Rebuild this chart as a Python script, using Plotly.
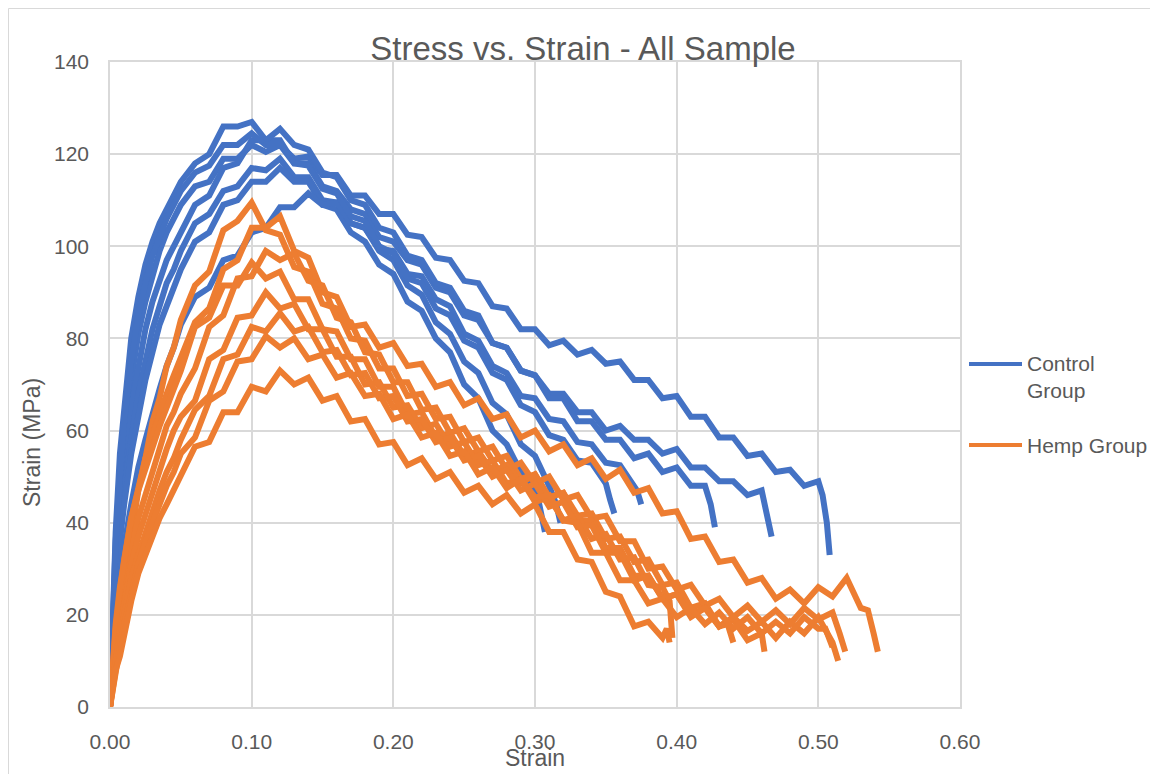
import plotly.graph_objects as go

# Shared strain grid (fine near origin, then 0.01 steps)
STRAIN_GRID = [0.000, 0.002, 0.004, 0.007, 0.010, 0.015, 0.020, 0.025, 0.030, 0.035, 0.040, 0.045, 0.050,
               0.06, 0.07, 0.08, 0.09, 0.10, 0.11, 0.12, 0.13, 0.14, 0.15,
               0.16, 0.17, 0.18, 0.19, 0.20, 0.21, 0.22, 0.23, 0.24, 0.25,
               0.26, 0.27, 0.28, 0.29, 0.30, 0.31, 0.32, 0.33, 0.34, 0.35,
               0.36, 0.37, 0.38, 0.39, 0.40, 0.41, 0.42, 0.43, 0.44, 0.45,
               0.46, 0.47, 0.48, 0.49, 0.50, 0.51, 0.52, 0.53, 0.54]

# ---- Control group (stress in MPa on STRAIN_GRID, then final failure points) ----
control_1 = [0, 18, 33, 47, 58, 71, 81, 88, 94, 99, 103, 106, 109,
             113, 114, 119, 119, 122, 120.5, 122, 119, 119.5, 115.5,
             115.5, 111, 111, 107, 107, 102.5, 102, 97.5, 97, 92.5,
             92, 87, 86.5, 82, 82, 78.5, 79.5, 76.5, 77.5, 74.5,
             75, 71, 71, 67, 67.5, 63, 63, 58.5, 58.5, 54.5,
             55, 51, 51.5, 48, 49]
control_1_tail = [(0.503, 46), (0.506, 40), (0.508, 33)]

control_2 = [0, 24, 38, 55, 65, 80, 89, 96, 101, 105, 108, 111, 114,
             118, 120, 126, 126, 127, 123, 123, 118, 118, 113,
             112, 108, 107, 102, 101, 97, 96, 91, 90, 85,
             84, 79, 78, 73, 72, 68, 68, 64, 64, 60,
             61, 58, 58, 55, 56, 52, 52, 49, 49, 46,
             47]
control_2_tail = [(0.463, 42), (0.467, 37)]

control_3 = [0, 15, 28, 42, 52, 65, 74, 82, 88, 93, 97, 100, 103,
             109, 111, 117, 118, 123, 123, 125.5, 122, 121, 116,
             115, 110, 109, 104, 103, 98, 97, 92, 91, 86,
             85, 79, 78, 73, 72, 67, 67, 62, 62, 58,
             58, 54, 55, 51, 52, 48, 48]
control_3_tail = [(0.424, 44), (0.427, 39)]

control_4 = [0, 14, 26, 38, 47, 58, 68, 75, 82, 87, 92, 95, 99,
             105, 107, 112, 113, 117, 116.5, 119, 115, 115, 110,
             109.5, 105, 104, 99.5, 99, 94, 93.5, 88.5, 87, 81,
             79.5, 74, 72.5, 67.5, 67, 62.5, 62, 57.5, 57, 53,
             52.5, 48]
control_4_tail = [(0.372, 47), (0.375, 44)]

control_5 = [0, 12, 24, 36, 44, 55, 63, 71, 77, 83, 87, 91, 95,
             101, 103, 109, 110, 114, 114, 117, 114, 114, 109,
             108, 103, 101, 96, 94, 88, 86, 80, 77, 70,
             67, 60, 57, 51, 47]
control_5_tail = [(0.303, 44), (0.307, 38)]

control_6 = [0, 10, 18, 28, 35, 44, 52, 58, 64, 69, 74, 78, 83,
             89, 91, 97, 98, 103, 104, 108.5, 108.5, 111.5, 109,
             109.5, 105, 104, 99, 97, 91.5, 89.5, 83.5, 81, 75,
             72.5, 66, 63.5, 57, 54.5, 48]
control_6_tail = [(0.315, 44), (0.318, 40)]

control_7 = [0, 20, 36, 50, 62, 75, 85, 92, 98, 102, 106, 109, 112,
             116, 117.5, 122, 122, 124.5, 122, 122, 118, 117.5, 112.5,
             111.5, 106.5, 105.5, 100, 98.5, 93, 92, 86.5, 85, 79.5,
             78, 72.5, 71, 65.5, 64, 59, 58, 53.5, 53, 48.5]
control_7_tail = [(0.353, 45), (0.356, 42)]

# ---- Hemp group ----
hemp_1 = [0, 6, 13, 20, 28, 37, 47, 54, 62, 67, 74, 78, 84,
          91.5, 94.5, 103.5, 105.5, 109.5, 103.5, 102.5, 95.5, 94.5, 87.5,
          86.5, 80, 79.5, 73.5, 73.5, 67.5, 68, 62.5, 63, 57.5,
          58.5, 53.5, 54.5, 49.5, 50.5, 45.5, 46.5, 41.5, 42, 36.5,
          37, 31.5, 32, 26.5, 27, 21.5, 22.5, 17.5, 19, 14.5,
          16]
hemp_1_tail = [(0.462, 12)]

hemp_2 = [0, 9, 17, 25, 32, 41, 48, 54, 59, 64, 68, 72, 76,
          83.5, 86.5, 95, 97, 104, 104, 106.5, 99, 97.5, 90,
          89, 82.5, 83, 78, 79, 74, 74.5, 69.5, 70.5, 65.5,
          67, 62.5, 63.5, 58.5, 60, 55.5, 57, 52.5, 54, 49.5,
          51.5, 46.5, 47.5, 42, 42.5, 36.5, 37, 31.5, 32, 27,
          28, 23.5, 25.5, 22.5, 26, 24, 28, 21.5]
hemp_2_tail = [(0.535, 21), (0.539, 16), (0.542, 12)]

hemp_3 = [0, 7, 13, 20, 26, 34, 41, 46, 52, 56, 61, 64, 68,
          73.5, 82.5, 85, 93, 93.5, 99, 97, 98.5, 92.5, 91.5,
          84.5, 83.5, 77, 76.5, 70.5, 70.5, 64.5, 65, 59.5, 60.5,
          55.5, 56.5, 51.5, 53, 48.5, 50, 45, 46, 41, 41.5,
          36, 36, 30, 30.5, 25.5, 26.5, 22, 23.5, 19.5, 22,
          18.5, 21, 18, 21.5, 19, 20.5]
hemp_3_tail = [(0.515, 16), (0.519, 12)]

hemp_4 = [0, 10, 18, 26, 32, 41, 47, 52, 57, 61, 65, 69, 73,
          82.5, 84.5, 91.5, 91.5, 96.5, 93, 94.5, 88.5, 88.5, 82,
          81.5, 75.5, 75.5, 69.5, 69.5, 63.5, 64, 58.5, 59.5, 54.5,
          55.5, 51, 52.5, 48.5, 50.5, 45.5, 46.5, 40.5, 40.5, 34.5,
          34.5, 28.5, 28.5, 23.5, 24.5, 19.5, 21.5, 17.5, 19.5, 16.5,
          18.5, 15, 18.5, 16, 19.5, 14]
hemp_4_tail = [(0.512, 12), (0.514, 10)]

hemp_5 = [0, 5, 11, 17, 22, 31, 37, 42, 47, 52, 56, 60, 63,
          66.5, 75.5, 77.5, 84.5, 85, 90, 86.5, 87.5, 82, 82,
          76, 76, 70, 70.5, 65, 65.5, 60.5, 61.5, 56.5, 57.5,
          52.5, 53.5, 48.5, 49.5, 44.5, 45.5, 40.5, 41.5, 36.5, 37.5,
          32, 32.5, 26.5, 26]
hemp_5_tail = [(0.395, 23), (0.397, 15)]

hemp_6 = [0, 6, 10, 15, 20, 28, 33, 38, 42, 47, 51, 54, 58,
          64.5, 67.5, 75.5, 76.5, 82.5, 81.5, 85.5, 81.5, 82.5, 77,
          77.5, 72, 72.5, 67, 67.5, 62, 62.5, 57.5, 58.5, 53.5,
          54.5, 50, 51.5, 47, 48.5, 43.5, 44.5, 39, 39.5, 33.5,
          33.5, 27.5, 28.5, 23.5, 24.5, 20, 21.5, 17.5]
hemp_6_tail = [(0.436, 18), (0.44, 14)]

hemp_7 = [0, 4, 9, 13, 18, 25, 31, 36, 40, 44, 48, 51, 55,
          58.5, 66.5, 68.5, 75, 75.5, 80.5, 78, 80, 75.5, 76.5,
          71.5, 72.5, 67.5, 68, 62.5, 63.5, 58.5, 59.5, 54.5, 55.5,
          50.5, 52, 47.5, 49.5, 45.5, 46, 40.5, 40, 33.5, 33.5,
          27.5, 27.5, 22.5, 23.5, 19.5, 21.5, 18, 20.5, 17, 19.5,
          16, 18.5, 16, 19.5, 17]
hemp_7_tail = [(0.505, 17), (0.51, 13)]

hemp_8 = [0, 4, 8, 11, 16, 23, 29, 33, 37, 41, 44, 47, 50,
          56.5, 57.5, 64, 64, 69.5, 68.5, 73, 70, 71.5, 66.5,
          67.5, 62, 62.5, 57, 57.5, 52.5, 54, 49.5, 51, 46.5,
          48, 44, 46, 42, 44, 38, 38, 32, 31.5, 25,
          24, 17.5, 18.5, 15]
hemp_8_tail = [(0.393, 17), (0.395, 14)]

control_curves = [(control_1, control_1_tail), (control_2, control_2_tail), (control_3, control_3_tail),
                  (control_4, control_4_tail), (control_5, control_5_tail), (control_6, control_6_tail),
                  (control_7, control_7_tail)]
hemp_curves = [(hemp_1, hemp_1_tail), (hemp_2, hemp_2_tail), (hemp_3, hemp_3_tail), (hemp_4, hemp_4_tail),
               (hemp_5, hemp_5_tail), (hemp_6, hemp_6_tail), (hemp_7, hemp_7_tail), (hemp_8, hemp_8_tail)]

SERIES_NAMES = ["Control Group", "Hemp Group"]
X_TICKS = [0.0, 0.1, 0.2, 0.3, 0.4, 0.5, 0.6]
Y_TICKS = [0, 20, 40, 60, 80, 100, 120, 140]

BLUE = "#4472C4"
ORANGE = "#ED7D31"
TEXT = "#595959"
GRID = "#D9D9D9"
FONT = "Liberation Sans, Arial, sans-serif"


def build_xy(vals, tail):
    xs = STRAIN_GRID[:len(vals)] + [t[0] for t in tail]
    ys = list(vals) + [t[1] for t in tail]
    return xs, ys


fig = go.Figure()
for vals, tail in control_curves:
    xs, ys = build_xy(vals, tail)
    fig.add_trace(go.Scatter(x=xs, y=ys, mode="lines", name=SERIES_NAMES[0],
                             legendgroup="control", showlegend=False,
                             line=dict(color=BLUE, width=6)))
for vals, tail in hemp_curves:
    xs, ys = build_xy(vals, tail)
    fig.add_trace(go.Scatter(x=xs, y=ys, mode="lines", name=SERIES_NAMES[1],
                             legendgroup="hemp", showlegend=False,
                             line=dict(color=ORANGE, width=6)))

# The page body adds an 8px offset; figure sized so the plot lands where the reference has it.
OFF = 8
W, H = 1150, 766
L, R, T, B = 102, 198, 54, 67
PW, PH = W - L - R, H - T - B


def px_x(p):  # page pixel -> paper x
    return (p - OFF - L) / PW


def px_y(p):  # page pixel -> paper y
    return (H - B - (p - OFF)) / PH


axis_common = dict(showgrid=True, gridcolor=GRID, gridwidth=1.5, zeroline=False,
                   showline=True, linecolor=GRID, linewidth=1.5, mirror=True,
                   ticks="", tickfont=dict(family=FONT, size=21, color=TEXT),
                   ticklabelstandoff=15)

fig.update_layout(
    width=W, height=H,
    margin=dict(l=L, r=R, t=T, b=B),
    paper_bgcolor="white", plot_bgcolor="white",
    showlegend=False,
    title=dict(text="Stress vs. Strain - All Sample", x=0.5, xref="container", xanchor="center",
               y=1 - (48 - OFF) / H, yref="container", yanchor="middle",
               font=dict(family=FONT, size=33, color=TEXT)),
    xaxis=dict(range=[0, 0.6], tickvals=X_TICKS, tickformat=".2f", **axis_common),
    yaxis=dict(range=[0, 140], tickvals=Y_TICKS, **axis_common),
)

annotations = [
    dict(text="Strain", x=px_x(535), y=px_y(758), xref="paper", yref="paper",
         xanchor="center", yanchor="middle", showarrow=False,
         font=dict(family=FONT, size=23, color=TEXT)),
    dict(text="Strain (MPa)", x=px_x(32), y=px_y(443), xref="paper", yref="paper",
         xanchor="center", yanchor="middle", textangle=-90, showarrow=False,
         font=dict(family=FONT, size=23, color=TEXT)),
    dict(text="Control<br>Group", x=px_x(1025), y=px_y(350), xref="paper", yref="paper",
         xanchor="left", yanchor="top", align="left", showarrow=False,
         font=dict(family=FONT, size=21, color=TEXT)),
    dict(text="Hemp Group", x=px_x(1025), y=px_y(445), xref="paper", yref="paper",
         xanchor="left", yanchor="middle", align="left", showarrow=False,
         font=dict(family=FONT, size=21, color=TEXT)),
]
fig.update_layout(annotations=annotations)

shapes = [
    dict(type="line", xref="paper", yref="paper", x0=px_x(969), x1=px_x(1022),
         y0=px_y(364), y1=px_y(364), line=dict(color=BLUE, width=4)),
    dict(type="line", xref="paper", yref="paper", x0=px_x(969), x1=px_x(1022),
         y0=px_y(445), y1=px_y(445), line=dict(color=ORANGE, width=4)),
    dict(type="rect", xref="paper", yref="paper", x0=px_x(OFF + 0.5), x1=px_x(OFF + W + 10),
         y0=px_y(OFF + 0.5), y1=px_y(OFF + H + 10), line=dict(color=GRID, width=1),
         fillcolor="rgba(0,0,0,0)", layer="below"),
]
fig.update_layout(shapes=shapes)

fig.write_html("out.html")
